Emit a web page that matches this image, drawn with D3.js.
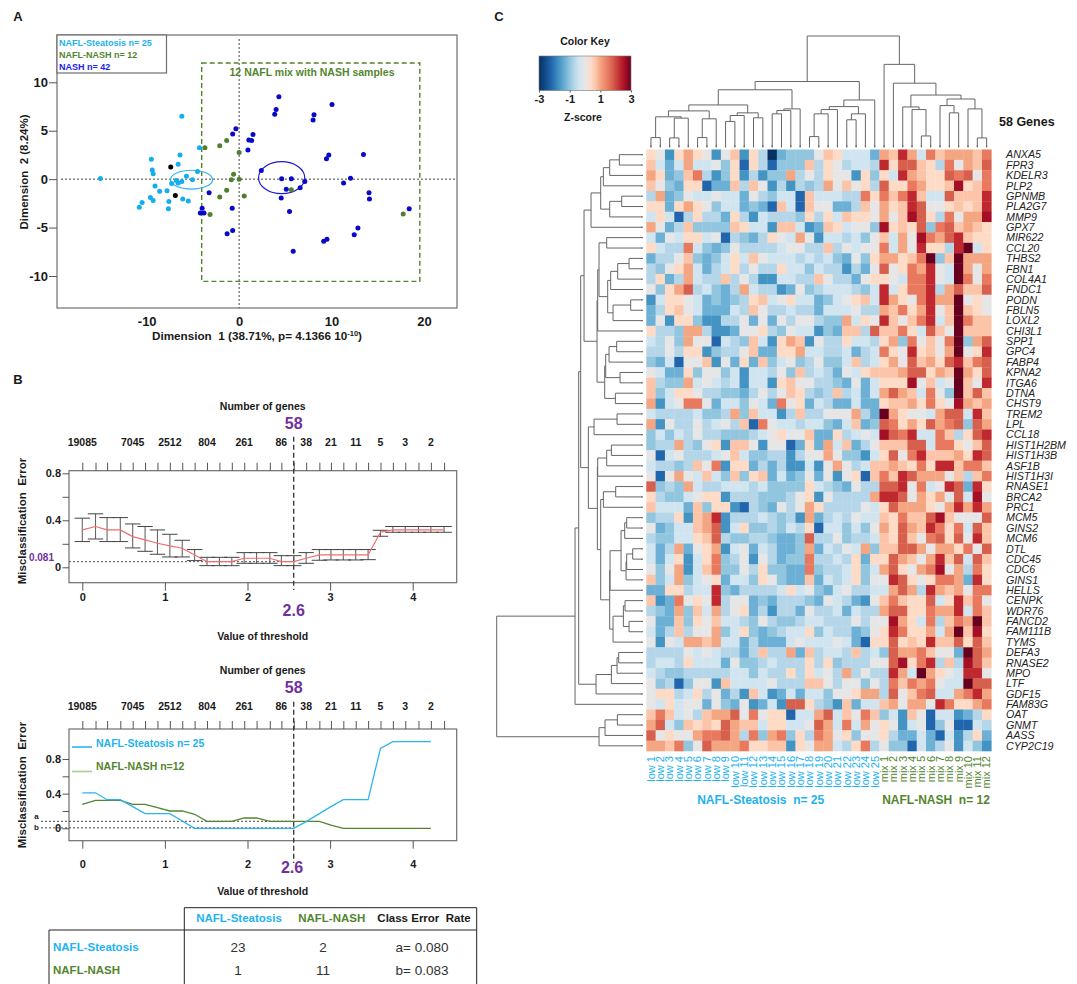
<!DOCTYPE html>
<html>
<head>
<meta charset="utf-8">
<script src="https://cdn.jsdelivr.net/npm/d3@7"></script>
<style>
  body { margin: 0; background: #fff; }
  text { font-family: "Liberation Sans", Arial, sans-serif; }
</style>
</head>
<body>
<svg id="fig" width="1077" height="984"></svg>
<script>
// panel A, dimension 1 / dimension 2
const steatosisPts = [[-15,0.07],[-6.2,6.5],[-4.3,3.25],[-6.4,2.5],[-6.6,1.55],[-9.5,2.05],[-9.4,0.95],[-9.3,0.55],[-4.5,0.8],[-5.7,0.3],[-5.05,-0.05],[-9.1,-0.7],[-7.3,-0.45],[-6.8,-0.15],[-6.6,-0.4],[-6.2,-0.25],[-8.6,-1.25],[-7.8,-1.2],[-9.6,-1.9],[-9.3,-2.2],[-6.1,-2.05],[-5.5,-2.25],[-7.6,-2.3],[-7.65,-3.05],[-10.5,-2.4],[-10.8,-2.9]];
const blackPts = [[-7.4,1.25],[-6.9,-1.7]];
const mixPts = [[-3.7,3.25],[-2.1,3.45],[-1.35,4],[0,2.75],[-0.6,0.5],[-0.85,-0.05],[0,0],[-1.35,-1.15],[-2.1,-1.85],[0.55,-1.75],[-3.15,-3.65],[5.65,-1.1],[17.75,-3.6]];
const nashPts = [[4.3,8.5],[4,7.2],[3.85,6.7],[8.1,6.65],[8,6.1],[10.05,7.7],[-0.35,5.2],[-0.7,4.65],[1.5,4.6],[1.05,4.05],[1.35,4],[0.95,3],[9.7,2.5],[9.45,2.1],[13.45,2.55],[2.4,0.9],[4.6,0.05],[5.65,0.05],[7.1,-0.25],[6.6,-0.9],[5.1,-1.05],[4.55,-1.95],[5.45,-3.35],[11.3,-0.4],[12.05,0.1],[14.05,-1.4],[14.1,-2.05],[-3.25,-1.4],[-0.75,-3],[-4,-3],[-4.2,-3.5],[-3.8,-3.5],[-1.3,-5.65],[-0.7,-5.3],[5.85,-7.45],[9.15,-6.4],[9.5,-6.2],[12.45,-5.75],[12.85,-5.05],[18.4,-3.05]];
const ellipses = [{cx:-5.15,cy:-0.05,rx:2.27,ry:0.97,c:'#2ab5f0'},{cx:4.6,cy:0.15,rx:2.5,ry:1.65,c:'#1a1ad0'}];
const mixBox = {x0:-4.05,x1:19.55,y0:12,y1:-10.55};

// panel B, shared threshold grid
const thresholds = [0,.16,.3,.46,.61,.76,.91,1.06,1.21,1.36,1.51,1.66,1.81,1.96,2.11,2.27,2.41,2.56,2.71,2.87,3.01,3.16,3.31,3.46,3.61,3.76,3.91,4.07,4.22,4.38];
const geneLabels = ['19085','7045','2512','804','261','86','38','21','11','5','3','2'];
const geneLabelIdx = [0,4,7,10,13,16,18,20,22,24,26,28];
const errMid = [.318,.347,.318,.318,.261,.233,.205,.182,.162,.105,.048,.048,.048,.077,.077,.077,.048,.048,.077,.105,.105,.105,.105,.105,.298,.318,.318,.318,.318,.318];
const errHi = [.418,.455,.423,.423,.369,.347,.318,.281,.23,.151,.085,.085,.085,.125,.125,.125,.099,.099,.125,.151,.151,.151,.151,.151,.315,.347,.347,.347,.347,.347];
const errLo = [.219,.241,.219,.219,.165,.136,.111,.088,.088,.057,.014,.014,.014,.034,.034,.034,.014,.014,.034,.06,.0625,.0625,.0625,.065,.264,.298,.298,.298,.298,.298];
const steatosisErr = [.41,.41,.33,.33,.25,.17,.17,.17,.085,0,0,0,0,0,0,0,0,0,.077,.17,.25,.33,.33,.33,.923,1,1,1,1];
const nashErr = [.277,.323,.323,.323,.277,.277,.238,.2,.2,.162,.081,.081,.081,.119,.119,.081,.081,.081,.081,.081,.038,0,0,0,0,0,0,0,0];

// panel B table
const tableHead = ['NAFL-Steatosis','NAFL-NASH','Class Error  Rate'];
const tableRows = [['NAFL-Steatosis','23','2','a= 0.080'],['NAFL-NASH','1','11','b= 0.083']];

// panel C heatmap
const geneNames = ['ANXA5','FPR3','KDELR3','PLP2','GPNMB','PLA2G7','MMP9','GPX7','MIR622','CCL20','THBS2','FBN1','COL4A1','FNDC1','PODN','FBLN5','LOXL2','CHI3L1','SPP1','GPC4','FABP4','KPNA2','ITGA6','DTNA','CHST9','TREM2','LPL','CCL18','HIST1H2BM','HIST1H3B','ASF1B','HIST1H3I','RNASE1','BRCA2','PRC1','MCM5','GINS2','MCM6','DTL','CDC45','CDC6','GINS1','HELLS','CENPK','WDR76','FANCD2','FAM111B','TYMS','DEFA3','RNASE2','MPO','LTF','GDF15','FAM83G','OAT','GNMT','AASS','CYP2C19'];
const lowNames = ['low 1','low 2','low 3','low 4','low 5','low 6','low 7','low 8','low 9','low 10','low 11','low 12','low 13','low 14','low 15','low 16','low 17','low 18','low 19','low 20','low 21','low 22','low 23','low 24','low 25'];
const mixNames = ['mix 1','mix 2','mix 3','mix 4','mix 5','mix 6','mix 7','mix 8','mix 9','mix 10','mix 11','mix 12'];
// one letter per cell, a..p index into zLevels; low samples then mix samples
const zLevels = [-3,-2.2,-1.7,-1.3,-1,-.7,-.4,0,.4,.7,1,1.5,1.8,2.3,2.6,3];
const zColors = ['#053061','#2166ac','#4393c3','#6db0d5','#92c5de','#b5d6e8','#d1e5f0','#e6e6e6','#fddbc7','#fcc5aa','#f4a582','#e8795f','#d6604d','#c0282f','#a50f26','#67001f'];
const heatRows = [
'ihcikihchjcifadeeehjigggd kjnkgljkkkjl',
'jgdgkggheibifbeeejfihfggf nimmjiflhkjm',
'kidejlfceicfceekfhfihhcie ignkjiimlmhl',
'jhediibddjfjhcfcfefkhjhif miilkiijoijl',
'fkdehgghggdhfeggbjgggffli ljlnjggmjjjn',
'iidikiheggdedbjgbjhhddfjh kijnmhhijijn',
'gigbfiffdifcgfffeifigjiih khjomiflhkko',
'khdfjeeeejiggcjjgcdjighhe oijimelmjkji',
'gdhgiighbfedfihgkhcggfgeh jgkholkmnjii',
'igfflgedehffffghhffjfhghh lgkhniifnpgi',
'dffhjedegigjhgggfgfgedhei kkijlpejpkkk',
'fehikgdfgifhffiggegffcfdh mhilknhgpkhk',
'fidfkgffjfhfccggffjhffdhi ihgllnhgplhl',
'heikmfgedfkgffcdhefgggfeg ngillnfkmjjm',
'cgiihgdedefijghiggdeghijg nkihlnkkphih',
'dfijhgdddgfjhffgffdggghff kjliknhjpjih',
'dhciieccffhdhdhfhhfeekgih njhjlngjpljj',
'iffekkfccdhhifehggcedjjfm jjligmjhpjjj',
'gfhekhhbgfejgcikjchffiggf ikelhjhlpekm',
'ffhfiiceffhjddiikggffgdfg lihnijhkphin',
'edgbhhjchdidjeghefheegjfg ikhmjkimnjlm',
'hgddiehhegcggfhejfgfdhgij jjkmmikjpkim',
'jfeekghgfgcggcijhhffedhdg iiiohjghpjhn',
'jegiihffeedfhfhjifefjfgdg kmkjglhepjmj',
'kcghllhdggehgdlhidgfddgdd ijjkilihokjk',
'gffffgeefkejggcfjffhhhkfd pkihhgkmmgnj',
'kchffhfghfjblhggfggedgjde mlikimklmemk',
'egegfhffeeefghihhjddifghg omlnggljfimn',
'effkfehicjjhchhbdidkgjdfh jjjmmgllihjm',
'hbghfffghjgeeffcfhhkheecg imhlnjjjkinm',
'gffefjhlciidfdfccgchkhfgj jkjilinnjllj',
'hbhkhgjgejeijdgdehdhchibj ljnmkkkhjfjl',
'mefekgffgggfgeeeeigfedhff mmnhlghnmdni',
'ifeeghiicfffeeefhichffffk nnmhkikhmgoh',
'jgggdjeiicbfedhfhkiffffhg imkkkihknknk',
'efficjkncfffgfefckdfgfhgg jiljjmojhhhm',
'hdeggjkmcgieefegfibggegeh kimkjnlilgmj',
'feeggijmfeeffeddemffheffg jimjhlmimhnj',
'gdfkdhikcghdgfddekdgfhgke jjmmkhkkilhm',
'gdgicgilefhchfdeelffgfidi imkjhknjmgmj',
'hehkcgjleehfieeddleffgieg kmihklohkfli',
'jegkeghidggeiheddjdgfgieh hnmihillkdni',
'ddiifggnedffffgighedghffg gkmkfnkjkhll',
'jcdlhihnfhhdedfffedhgfdch jljiimginjlh',
'fedkejgkfhidfcffdhffgdgff kmmiilkknglj',
'hddjeihjggfehfeefggfffhfh hokiglfjlkpj',
'gdfjfhhkegiedefggiegffdeh inliikgkpjoi',
'hchgkkjkggdfdddghggghgdbi imijinjjmimj',
'ffffhghgffdfjffkdjfggfjfg emkkljhhdpmk',
'fggfigggdheefgfffifiefffh hmoilnfjfomj',
'gfeefffffggegffifighfkfhf fnkgpkihgnnh',
'hefbehhcjgggghfffjjhfhheh fljlklhggpmm',
'hiifgifhdfcjgcdgdggehhikk fmhjlmggklnk',
'hgighhdhedhcdgcmmifecjdgg jkhkkhnliikl',
'jljghfjkkmhlhiibggkmgjhlj egcjhbggcdfi',
'kmgejijimkjjgiigghmkglgkh ihcghbehbbgf',
'mhihhkllmkflekleiflkhiehh ifddgdbgcfid',
'kkjlehmkkkliijjcihkkgfilf heebgdfhcgec'
];
// dendrograms as [height, left, right], a bare number is a leaf index
const colTree = [338,
  [200,
    [175,
      [129,
        [111,[93,[30,0,1],[89,[29,2,3],4]],[87,[30,5,6],7]],
        [105,[97,[79,8,9],10],[90,11,12]]],
      [117,[112,[102,13,14],15],16]],
    [144,[124,[115,[102,[33,17,18],19],20],[102,[84,21,22],23]],24]],
  [252,25,[195,26,[159,
    [123,27,[115,28,[35,29,30]]],
    [147,[127,31,[105,32,33]],[117,34,[29,35,36]]]]]]];
const rowTree = [435,
  [200,
    [189,
      [183,
        [173,
          [152,[123,[115,[96,[67,0,1],2],3],[96,[60,4,5],6]],7],
          [134,
            [132,[128,[105,8,9],[102,[93,[72,[38,10,11],12],13],[86,[33,14,15],16]]],17],
            [111,[108,[98,[75,18,19],20],[65,21,22]],[79,23,24]]]],
        [160,
          [143,[74,25,26],27],
          [133,
            [132,[105,[91,28,29],30],31],
            [123,
              [115,[78,32,33],34],
              [96,
                [95,[62,[51,[45,35,36],37],[47,[45,[27,38,39],40],41]],42],
                [86,[55,[50,43,44],[38,45,46]],47]]]]]],
      [137,[91,[74,[69,48,49],50],51],52]],
    53],
  [128,[110,[73,54,55],56],57]];

const svg = d3.select('#fig');
const cyan = '#22b2f0', green = '#53852f', purple = '#7030a0', ink = '#1a1a1a', frame = '#6e6e6e';

function txt(g, x, y, s, o) {
  o = o || {};
  return g.append('text')
    .attr('x', x).attr('y', y).attr('dy', '.35em')
    .attr('text-anchor', o.anchor || 'middle')
    .attr('font-size', o.size || 11)
    .attr('font-weight', o.normal ? 'normal' : 'bold')
    .attr('font-style', o.italic ? 'italic' : 'normal')
    .attr('fill', o.fill || ink)
    .style('white-space', 'pre')
    .text(s);
}

function vtxt(g, x, y, s, o) {
  o = o || {};
  return g.append('text')
    .attr('transform', `translate(${x},${y}) rotate(-90)`)
    .attr('dy', '.35em')
    .attr('text-anchor', o.anchor || 'middle')
    .attr('font-size', o.size || 11)
    .attr('font-weight', o.normal ? 'normal' : 'bold')
    .attr('fill', o.fill || ink)
    .style('white-space', 'pre')
    .text(s);
}

function styleAxis(sel, size) {
  sel.select('.domain').remove();
  sel.selectAll('line').attr('stroke', '#555');
  sel.selectAll('text').attr('font-size', size).attr('font-weight', 'bold').attr('fill', ink).attr('font-family', '"Liberation Sans", Arial, sans-serif');
}

// ---- panel A ----
const a = svg.append('g');
txt(a, 18, 16, 'A', {size: 13});
const ax = d3.scaleLinear().domain([-10, 20]).range([146.7, 424]);
const ay = d3.scaleLinear().domain([-10, 10]).range([276, 82.3]);
a.append('rect').attr('x', 57).attr('y', 35).attr('width', 400).attr('height', 273)
  .attr('fill', 'none').attr('stroke', frame).attr('stroke-width', 1.2);

a.append('line').attr('x1', 61).attr('x2', 457).attr('y1', ay(0)).attr('y2', ay(0))
  .attr('stroke', '#444').attr('stroke-dasharray', '2,2');
a.append('line').attr('x1', ax(0)).attr('x2', ax(0)).attr('y1', 39).attr('y2', 308)
  .attr('stroke', '#444').attr('stroke-dasharray', '2,2');

a.append('rect')
  .attr('x', ax(mixBox.x0)).attr('y', ay(mixBox.y0))
  .attr('width', ax(mixBox.x1) - ax(mixBox.x0)).attr('height', ay(mixBox.y1) - ay(mixBox.y0))
  .attr('fill', 'none').attr('stroke', green).attr('stroke-width', 1.4).attr('stroke-dasharray', '5,3');
txt(a, 312, 72, '12 NAFL mix with NASH samples', {size: 10.5, fill: green});

a.selectAll('.ell').data(ellipses).enter().append('ellipse')
  .attr('cx', d => ax(d.cx)).attr('cy', d => ay(d.cy))
  .attr('rx', d => ax(d.rx) - ax(0)).attr('ry', d => ay(0) - ay(d.ry))
  .attr('fill', 'none').attr('stroke', d => d.c).attr('stroke-width', 1.2);

[[steatosisPts, '#14aeee'], [blackPts, '#000'], [mixPts, '#4f7f30'], [nashPts, '#0808c8']].forEach(function(s) {
  a.append('g').selectAll('circle').data(s[0]).enter().append('circle')
    .attr('cx', d => ax(d[0])).attr('cy', d => ay(d[1]))
    .attr('r', 2.5).attr('fill', s[1]);
});

a.append('rect').attr('x', 57).attr('y', 35).attr('width', 109.5).attr('height', 38)
  .attr('fill', '#fff').attr('stroke', frame).attr('stroke-width', 1.2);
txt(a, 59, 43, 'NAFL-Steatosis n= 25', {anchor: 'start', size: 9, fill: cyan});
txt(a, 59, 55, 'NAFL-NASH n= 12', {anchor: 'start', size: 9, fill: green});
txt(a, 59, 66.5, 'NASH n= 42', {anchor: 'start', size: 9, fill: '#2222ee'});

a.append('g').attr('transform', 'translate(0,321)')
  .call(d3.axisBottom(ax).tickValues([-10, 0, 10, 20]).tickSize(0).tickPadding(0).tickFormat(String))
  .call(s => styleAxis(s, 13))
  .call(s => s.selectAll('text').attr('dy', '.35em').attr('y', 0).attr('text-anchor', 'middle'));
a.append('g').attr('transform', 'translate(57,0)')
  .call(d3.axisLeft(ay).tickValues([-10, -5, 0, 5, 10]).tickSize(8).tickPadding(1).tickFormat(String))
  .call(s => styleAxis(s, 13));

const dimX = txt(a, 257, 336, 'Dimension  1 (38.71%, p= 4.1366 10', {size: 11.7});
dimX.append('tspan').attr('font-size', 7.5).attr('dy', '-.5em').text('-10');
dimX.append('tspan').attr('dy', '.35em').text(')');
vtxt(a, 24, 172, 'Dimension  2 (8.24%)', {size: 11.5});

// ---- panel B ----
const bx = d3.scaleLinear().domain([0, 4]).range([82.3, 412.7]);
txt(svg, 18, 379, 'B', {size: 13});

function thresholdFrame(top, bottom, o) {
  const g = svg.append('g');
  g.append('rect').attr('x', 69).attr('y', top).attr('width', 387.7).attr('height', bottom - top)
    .attr('fill', 'none').attr('stroke', frame).attr('stroke-width', 1.2);

  g.append('g').attr('transform', `translate(0,${top})`)
    .call(d3.axisTop(bx).tickValues(thresholds).tickSize(8).tickFormat(''))
    .call(s => styleAxis(s, 10));
  g.append('g').attr('transform', `translate(0,${bottom})`)
    .call(d3.axisBottom(bx).tickValues([0, 1, 2, 3, 4]).tickSize(8).tickPadding(o.xPad).tickFormat(String))
    .call(s => styleAxis(s, 11));
  g.append('g').attr('transform', 'translate(69,0)')
    .call(d3.axisLeft(o.y).tickValues([0, .2, .4, .6, .8]).tickSize(6.5).tickPadding(1.5).tickFormat(d => (d === .2 || d === .6) ? '' : (d === 0 ? '0' : d)))
    .call(s => styleAxis(s, 11));

  txt(g, 262.7, o.titleY, 'Number of genes', {size: 10.5});
  txt(g, 293.7, o.titleY + 17, '58', {size: 16, fill: purple});
  geneLabels.forEach(function(l, i) {
    txt(g, bx(thresholds[geneLabelIdx[i]]), o.geneY, l, {size: 10.5});
  });
  g.append('line').attr('x1', 293.7).attr('x2', 293.7).attr('y1', o.dash[0]).attr('y2', o.dash[1])
    .attr('stroke', '#333').attr('stroke-width', 1.3).attr('stroke-dasharray', '5,3');
  txt(g, o.cutX, o.cutY, '2.6', {size: 16, fill: purple});
  txt(g, 262.7, o.xTitleY, 'Value of threshold', {size: 10.5});
  vtxt(g, 21.5, o.yTitleY, 'Misclassification  Error', {size: 11.5});
  return g;
}

// top error plot
const by1 = d3.scaleLinear().domain([0, .8]).range([567.3, 473.3]);
const b1 = thresholdFrame(470.7, 582.7, {y: by1, xPad: 3, titleY: 406.7, geneY: 442.7, dash: [436.7, 590], cutX: 293.7, cutY: 610, xTitleY: 636, yTitleY: 521});

b1.append('line').attr('x1', 69).attr('x2', 293.7).attr('y1', by1(.048)).attr('y2', by1(.048))
  .attr('stroke', '#555').attr('stroke-dasharray', '2,2');
txt(b1, 54, 557, '0.081', {anchor: 'end', size: 10, fill: purple});

const bars = b1.append('g').attr('stroke', '#444').selectAll('g').data(thresholds).enter().append('g');
bars.append('line')
  .attr('x1', d => bx(d)).attr('x2', d => bx(d))
  .attr('y1', (d, i) => by1(errHi[i])).attr('y2', (d, i) => by1(errLo[i]))
  .attr('stroke-width', 1.1).attr('stroke', '#666');
bars.append('line')
  .attr('x1', d => bx(d) - 7.7).attr('x2', d => bx(d) + 7.7)
  .attr('y1', (d, i) => by1(errHi[i])).attr('y2', (d, i) => by1(errHi[i]));
bars.append('line')
  .attr('x1', d => bx(d) - 7.7).attr('x2', d => bx(d) + 7.7)
  .attr('y1', (d, i) => by1(errLo[i])).attr('y2', (d, i) => by1(errLo[i]));

const line1 = d3.line().x((d, i) => bx(thresholds[i])).y(d => by1(d));
b1.append('path').attr('d', line1(errMid)).attr('fill', 'none').attr('stroke', '#f26d6d').attr('stroke-width', 1.2);

// bottom per class plot
const by2 = d3.scaleLinear().domain([0, .8]).range([828.3, 759]);
const b2 = thresholdFrame(729, 840.7, {y: by2, xPad: 12, titleY: 670, geneY: 706, dash: [701.7, 863], cutX: 292, cutY: 867, xTitleY: 891.7, yTitleY: 785});

const line2 = d3.line().x((d, i) => bx(thresholds[i])).y(d => by2(d));
b2.append('line').attr('x1', 41).attr('x2', 293.7).attr('y1', by2(.081)).attr('y2', by2(.081))
  .attr('stroke', '#444').attr('stroke-dasharray', '2,2');
b2.append('line').attr('x1', 41).attr('x2', 293.7).attr('y1', by2(.005)).attr('y2', by2(.005))
  .attr('stroke', '#444').attr('stroke-dasharray', '2,2');
txt(b2, 36.5, 816, 'a', {size: 8});
txt(b2, 36.5, 827, 'b', {size: 8});
b2.append('path').attr('d', line2(nashErr)).attr('fill', 'none').attr('stroke', green).attr('stroke-width', 1.3);
b2.append('path').attr('d', line2(steatosisErr)).attr('fill', 'none').attr('stroke', '#2ab5f0').attr('stroke-width', 1.3);

b2.append('line').attr('x1', 72).attr('x2', 92).attr('y1', 747).attr('y2', 747).attr('stroke', '#2ab5f0').attr('stroke-width', 1.6);
b2.append('line').attr('x1', 72).attr('x2', 92).attr('y1', 771.5).attr('y2', 771.5).attr('stroke', '#a9d08e').attr('stroke-width', 1.6);
txt(b2, 96, 743.5, 'NAFL-Steatosis n= 25', {anchor: 'start', size: 10.5, fill: cyan});
txt(b2, 96, 766.5, 'NAFL-NASH n=12', {anchor: 'start', size: 10.5, fill: green});

// table
const tb = svg.append('g').attr('stroke', '#222').attr('stroke-width', 1);
tb.append('line').attr('x1', 184.3).attr('x2', 476.7).attr('y1', 907.7).attr('y2', 907.7);
tb.append('line').attr('x1', 49).attr('x2', 476.7).attr('y1', 930).attr('y2', 930);
tb.append('line').attr('x1', 184.3).attr('x2', 184.3).attr('y1', 907.7).attr('y2', 984);
tb.append('line').attr('x1', 49).attr('x2', 49).attr('y1', 930).attr('y2', 984);
tb.append('line').attr('x1', 476.7).attr('x2', 476.7).attr('y1', 907.7).attr('y2', 984);

const tableX = [239, 331.7, 424];
const cellX = [238, 323, 422];
tableHead.forEach(function(h, i) {
  txt(svg, tableX[i], 918, h, {size: 11.5, fill: i === 0 ? cyan : (i === 1 ? green : ink)});
});
tableRows.forEach(function(r, j) {
  const y = 947 + j * 23;
  txt(svg, 53, y, r[0], {anchor: 'start', size: 11.5, fill: j === 0 ? cyan : green});
  r.slice(1).forEach(function(v, i) {
    txt(svg, cellX[i], y, v, {size: 13.5, normal: true, fill: '#333'});
  });
});

// ---- panel C ----
const c = svg.append('g');
txt(c, 499, 16, 'C', {size: 13});

const heatData = heatRows.map(r => r.replace(/ /g, '').split('').map(k => zLevels[k.charCodeAt(0) - 97]));
const colNames = lowNames.concat(mixNames);
const color = d3.scaleLinear().domain(zLevels).range(zColors);

const cx = d3.scaleBand().domain(d3.range(colNames.length)).range([646.3, 991.3]);
const cy = d3.scaleBand().domain(geneNames).range([149.5, 751]);

heatData.forEach(function(row, j) {
  c.append('g').selectAll('rect').data(row).enter().append('rect')
    .attr('x', (d, i) => cx(i)).attr('y', cy(geneNames[j]))
    .attr('width', cx.bandwidth() + .3).attr('height', cy.bandwidth() + .3)
    .attr('fill', d => color(d));
});

c.append('g').attr('transform', 'translate(0,147)')
  .call(d3.axisTop(cx).tickSize(2).tickFormat(''))
  .call(s => styleAxis(s, 8));
c.append('g').attr('transform', 'translate(643,0)')
  .call(d3.axisLeft(cy).tickSize(2).tickFormat(''))
  .call(s => styleAxis(s, 8));

// gene names on the right, sample names below
geneNames.forEach(function(g) {
  txt(c, 1006, cy(g) + cy.bandwidth() / 2, g, {anchor: 'start', size: 10.7, normal: true, italic: true, fill: '#222'});
});
colNames.forEach(function(n, i) {
  vtxt(c, cx(i) + cx.bandwidth() / 2, 756, n, {anchor: 'end', size: 11, normal: true, fill: i < lowNames.length ? cyan : green});
});
txt(c, 760.7, 800, 'NAFL-Steatosis  n= 25', {size: 12, fill: cyan});
txt(c, 936, 800, 'NAFL-NASH  n= 12', {size: 12, fill: green});
txt(c, 999, 122, '58 Genes', {anchor: 'start', size: 12.5});

// dendrograms, walk nested arrays and draw the elbows
function drawTree(g, node, leafPos, hPos, vertical) {
  if (typeof node === 'number') return {p: leafPos(node), h: 0};
  const l = drawTree(g, node[1], leafPos, hPos, vertical);
  const r = drawTree(g, node[2], leafPos, hPos, vertical);
  const h = hPos(node[0]);
  const lh = hPos(l.h), rh = hPos(r.h);
  const d = vertical
    ? `M${l.p},${lh}V${h}H${r.p}V${rh}`
    : `M${lh},${l.p}H${h}V${r.p}H${rh}`;
  g.append('path').attr('d', d).attr('fill', 'none').attr('stroke', '#666').attr('stroke-width', 1);
  return {p: (l.p + r.p) / 2, h: node[0]};
}

const colH = d3.scaleLinear().domain([0, 338]).range([147.5, 36]);
const rowH = d3.scaleLinear().domain([0, 435]).range([641.7, 496.7]);
drawTree(c.append('g'), colTree, i => cx(i) + cx.bandwidth() / 2, colH, true);
drawTree(c.append('g'), rowTree, i => cy(geneNames[i]) + cy.bandwidth() / 2, rowH, false);

// colour key
const keyX = d3.scaleLinear().domain([-3, 3]).range([539, 631]);
const defs = svg.append('defs');
const grad = defs.append('linearGradient').attr('id', 'keyGrad');
zLevels.forEach(function(z, i) {
  grad.append('stop').attr('offset', (keyX(z) - 539) / 92).attr('stop-color', zColors[i]);
});
c.append('rect').attr('x', 539).attr('y', 56).attr('width', 92).attr('height', 34.5).attr('fill', 'url(#keyGrad)').attr('stroke', '#777').attr('stroke-width', .6);
c.append('g').attr('transform', 'translate(0,90.5)')
  .call(d3.axisBottom(keyX).tickValues([-3, -1, 1, 3]).tickSize(2).tickPadding(3).tickFormat(String))
  .call(s => styleAxis(s, 11));
txt(c, 585, 41.7, 'Color Key', {size: 10.5});
txt(c, 583, 117, 'Z-score', {size: 10.5});
</script>
</body>
</html>
